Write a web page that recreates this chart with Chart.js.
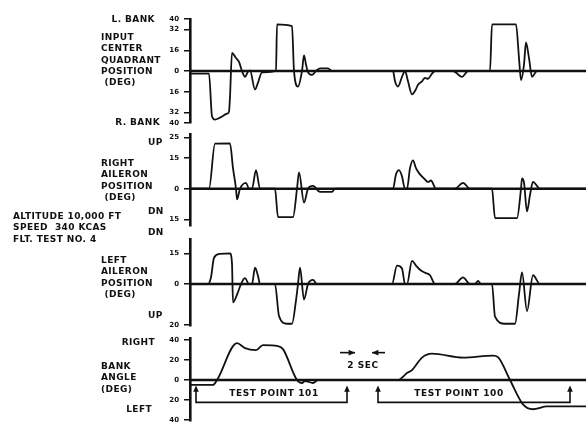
<!DOCTYPE html>
<html>
<head>
<meta charset="utf-8">
<script src="https://cdn.jsdelivr.net/npm/chart.js@4.4.1/dist/chart.umd.min.js"></script>
<style>
  html, body { margin: 0; padding: 0; background: #fff; }
  body { width: 586px; height: 422px; position: relative; overflow: hidden; }
  canvas { position: absolute; left: 0; }
  .lbl {
    position: absolute; font: bold 9px "DejaVu Sans", sans-serif; letter-spacing: 0.4px;
    color: #111; white-space: nowrap; line-height: 11.3px;
  }
</style>
</head>
<body>
<canvas id="quadrant" width="586" height="122" style="top:10px"></canvas>
<canvas id="rightAileron" width="586" height="110" style="top:125px"></canvas>
<canvas id="leftAileron" width="586" height="105" style="top:230px"></canvas>
<canvas id="bank" width="586" height="101" style="top:329px"></canvas>

<div class="lbl" style="right:431px;top:14px">L. BANK</div>
<div class="lbl" style="left:101px;top:32px">INPUT<br>CENTER<br>QUADRANT<br>POSITION<br>&nbsp;(DEG)</div>
<div class="lbl" style="right:426px;top:117px">R. BANK</div>

<div class="lbl" style="left:148px;top:137px">UP</div>
<div class="lbl" style="left:101px;top:158px">RIGHT<br>AILERON<br>POSITION<br>&nbsp;(DEG)</div>
<div class="lbl" style="left:148px;top:206px">DN</div>
<div class="lbl" style="left:148px;top:227px">DN</div>
<div class="lbl" style="left:13px;top:211px">ALTITUDE 10,000 FT<br>SPEED&nbsp; 340 KCAS<br>FLT. TEST NO. 4</div>

<div class="lbl" style="left:101px;top:255px">LEFT<br>AILERON<br>POSITION<br>&nbsp;(DEG)</div>
<div class="lbl" style="left:148px;top:310px">UP</div>

<div class="lbl" style="right:431px;top:337px">RIGHT</div>
<div class="lbl" style="left:101px;top:361px">BANK<br>ANGLE<br>(DEG)</div>
<div class="lbl" style="right:434px;top:404px">LEFT</div>

<script>
// time base of the strip chart (arbitrary units along the record)
const timeSpan = 39.6;

// input center quadrant position, deg (+ = left bank)
const quadrantTime = [0, 1.9, 2.2, 2.5, 3.0, 3.7, 3.9, 4.0, 4.2, 4.6, 4.9, 5.2, 5.5, 5.8, 6.0, 6.5, 6.8, 7.2, 8.6,
  8.7, 10.2, 10.4, 10.8, 11.2, 11.4, 11.6, 11.8, 12.2, 12.6, 13.0, 13.8, 14.2, 20.3, 20.5, 20.8, 21.2, 21.5,
  21.8, 22.2, 22.6, 22.8, 23.2, 23.5, 23.8, 24.2, 24.5, 26.3, 27.2, 27.8, 30.0, 30.2, 32.6, 32.9, 33.1,
  33.4, 33.6, 33.9, 34.2, 34.7, 39.6];
const quadrantDeg = [-2, -2, -35, -37.5, -36, -33, -31.5, -20, 14, 10, 7, 0, -4.5, -0.5, 0.5, -14.3, -9, -1, 0,
  36, 34.7, 0, -12, 0, 12, 5, -1, -3, 0, 2, 2, 0, 0, -8, -12, -4.5, 0,
  -8, -18, -14, -10.6, -8, -5.3, -6, -2, 0, 0, -4.5, 0, 0, 36, 36, 10, -7,
  5, 22, 10, -4.5, 0, 0];
const quadrantTicks = [40, 32, 16, 0, -16, -32, -40];

// right aileron position, deg (+ = up)
const rightAileronTime = [0, 1.9, 2.5, 4.0, 4.3, 4.6, 4.7, 5.0, 5.6, 5.9, 6.2, 6.6, 7.0, 8.5, 8.8, 10.3, 10.7,
  10.9, 11.4, 11.8, 12.3, 13.0, 14.2, 14.5, 20.3, 20.6, 20.9, 21.2, 21.5, 21.7, 22.0, 22.3, 22.6, 22.9,
  23.5, 23.8, 24.1, 24.6, 26.5, 27.3, 28.0, 30.2, 30.5, 32.7, 33.1, 33.2, 33.4, 33.7, 34.0, 34.3, 35.0, 39.6];
const rightAileronDeg = [0, 0, 21.9, 22, 10, 0, -5.2, 0, 2.9, 0, 0, 9, 0, 0, -13.8, -13.8, 0,
  8, -6.7, 0, 1.4, -1.5, -1.5, 0, 0, 7, 9, 6, 0, 0, 10, 13.8, 10, 7.6,
  4.5, 3.3, 4, 0, 0, 2.9, 0, 0, -14.3, -14.3, 0, 5, 3, -11, -3, 3.3, 0, 0];
const rightAileronTicks = [25, 15, 0, -15];

// left aileron position, deg (+ = down)
const leftAileronTime = [0, 1.8, 2.1, 2.4, 3.0, 4.0, 4.2, 4.3, 4.7, 5.1, 5.5, 5.9, 6.2, 6.5, 6.8, 7.0, 8.5,
  8.9, 9.7, 10.2, 10.6, 10.8, 11.0, 11.4, 11.8, 12.3, 12.7, 20.2, 20.7, 21.2, 21.5, 21.7, 22.2, 22.6,
  23.0, 23.5, 24.0, 24.5, 26.5, 27.3, 28.0, 28.5, 28.8, 29.1, 30.2, 30.5, 31.5, 32.5, 32.9, 33.2, 33.7,
  34.3, 35.0, 39.6];
const leftAileronDeg = [0, 0, 3.3, 12.9, 14.8, 15, 10, -9, -5.2, 0, 2.9, 0, 0, 8, 4, 0, 0,
  -15.7, -19.5, -19.5, -8, 0, 8, -7.6, 0, 2, 0, 0, 9, 7.6, 0, 0, 11.4, 9,
  7, 5.5, 4.3, 0, 0, 3.3, 0, 0, 1.5, 0, 0, -16, -19.5, -19.5, -5, 5.7, -13.3,
  4.3, 0, 0];
const leftAileronTicks = [15, 0, -20];

// bank angle, deg (+ = right)
const bankTime = [0, 2.3, 2.7, 4.7, 5.5, 6.6, 7.3, 8.8, 9.3, 10.7, 11.2, 11.5, 12.3, 12.8, 20.8, 21.7,
  22.2, 23.2, 24.2, 27.3, 30.3, 30.8, 32.0, 33.3, 34.3, 35.7, 39.6];
const bankDeg = [-4.9, -4.9, 0, 37, 32, 30, 35, 34, 31, 0, -3, -1, -3, 0, 0, 7,
  10, 22.5, 26.5, 22.5, 24.5, 23, 0, -24.5, -29.4, -26.5, -26.5];
const bankTicks = [40, 20, 0, -20, -40];

// test point brackets and the time marker under the bank angle trace
const testPoints = [
  { label: 'TEST POINT 101', from: 0.6, to: 15.7, textAt: 8.4 },
  { label: 'TEST POINT 100', from: 18.8, to: 38.0, textAt: 26.9 }
];
const secMarker = { label: '2 SEC', leftArrow: [15.0, 16.5], rightArrow: [19.5, 18.2], textAt: 17.3 };

const ink = '#111';
const axisX = 190;

function arrowHead(ctx, x, y, dx, dy) {
  // small filled triangle pointing along (dx, dy)
  const s = 4;
  ctx.beginPath();
  ctx.moveTo(x, y);
  ctx.lineTo(x - dx * s * 1.6 + dy * s * 0.7, y - dy * s * 1.6 + dx * s * 0.7);
  ctx.lineTo(x - dx * s * 1.6 - dy * s * 0.7, y - dy * s * 1.6 - dx * s * 0.7);
  ctx.closePath();
  ctx.fill();
}

const bankNotes = {
  id: 'bankNotes',
  afterDatasetsDraw(chart) {
    const { ctx, scales: { x, y } } = chart;
    ctx.save();
    ctx.strokeStyle = ink;
    ctx.fillStyle = ink;
    ctx.lineWidth = 1.6;
    ctx.font = 'bold 9px "DejaVu Sans"';
    ctx.letterSpacing = '0.6px';
    ctx.textAlign = 'center';
    ctx.textBaseline = 'middle';

    const yLine = y.getPixelForValue(-22.5);
    const yTip = y.getPixelForValue(-5.5);
    testPoints.forEach(tp => {
      const x0 = x.getPixelForValue(tp.from);
      const x1 = x.getPixelForValue(tp.to);
      ctx.beginPath();
      ctx.moveTo(x0, yTip + 4);
      ctx.lineTo(x0, yLine);
      ctx.lineTo(x1, yLine);
      ctx.lineTo(x1, yTip + 4);
      ctx.stroke();
      arrowHead(ctx, x0, yTip, 0, -1);
      arrowHead(ctx, x1, yTip, 0, -1);
      ctx.fillText(tp.label, x.getPixelForValue(tp.textAt), y.getPixelForValue(-13.7));
    });

    const yArrow = y.getPixelForValue(27.5);
    [secMarker.leftArrow, secMarker.rightArrow].forEach(([a, b]) => {
      const xa = x.getPixelForValue(a);
      const xb = x.getPixelForValue(b);
      ctx.beginPath();
      ctx.moveTo(xa, yArrow);
      ctx.lineTo(xb, yArrow);
      ctx.stroke();
      arrowHead(ctx, xb, yArrow, Math.sign(xb - xa), 0);
    });
    ctx.fillText(secMarker.label, x.getPixelForValue(secMarker.textAt), y.getPixelForValue(14.7));
    ctx.restore();
  }
};

function drawPanel(id, time, deg, yMin, yMax, ticks, plugins) {
  return new Chart(document.getElementById(id), {
    type: 'line',
    data: {
      datasets: [
        {
          data: [{ x: 0, y: 0 }, { x: timeSpan, y: 0 }],
          borderColor: ink,
          borderWidth: 2.6,
          pointRadius: 0
        },
        {
          data: time.map((t, i) => ({ x: t, y: deg[i] })),
          borderColor: ink,
          borderWidth: 1.8,
          pointRadius: 0,
          cubicInterpolationMode: 'monotone'
        }
      ]
    },
    options: {
      responsive: false,
      animation: false,
      events: [],
      layout: { padding: { top: 8, bottom: 8, left: 0, right: 0 } },
      plugins: {
        legend: { display: false },
        tooltip: { enabled: false }
      },
      scales: {
        x: { type: 'linear', display: false, min: 0, max: timeSpan },
        y: {
          min: yMin,
          max: yMax,
          afterFit: scale => { scale.width = axisX; },
          afterBuildTicks: scale => { scale.ticks = ticks.map(v => ({ value: v })); },
          ticks: {
            autoSkip: false,
            padding: 5,
            color: ink,
            font: { family: 'DejaVu Sans', size: 7, weight: 'bold' },
            callback: value => Math.abs(value)
          },
          grid: { drawOnChartArea: false, tickLength: 6, color: ink, lineWidth: 1.5 },
          border: { color: ink, width: 2.6 }
        }
      }
    },
    plugins: plugins || []
  });
}

drawPanel('quadrant', quadrantTime, quadrantDeg, -40, 40, quadrantTicks);
drawPanel('rightAileron', rightAileronTime, rightAileronDeg, -18, 26.5, rightAileronTicks);
drawPanel('leftAileron', leftAileronTime, leftAileronDeg, -20.5, 22, leftAileronTicks);
drawPanel('bank', bankTime, bankDeg, -41, 42, bankTicks, [bankNotes]);
</script>
</body>
</html>
